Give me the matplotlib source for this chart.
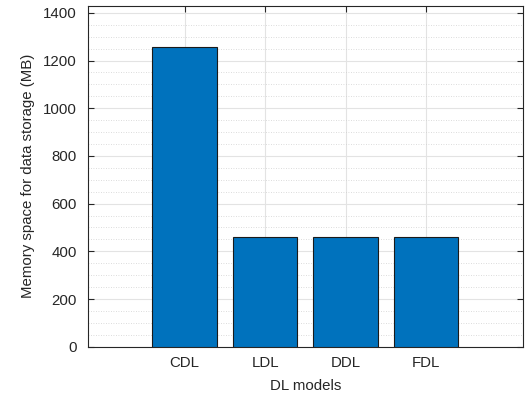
import matplotlib.pyplot as plt
from matplotlib.ticker import MultipleLocator

models = ["CDL", "LDL", "DDL", "FDL"]
memory_mb = [1255, 461, 461, 462]

plt.rcParams["font.family"] = ["Liberation Sans", "DejaVu Sans"]
plt.rcParams["font.size"] = 10.8

fig = plt.figure(figsize=(5.26, 3.96), dpi=100)
ax = fig.add_axes([88 / 526, 1 - 346.7 / 396, (522.7 - 88) / 526, (346.7 - 5.7) / 396])

x = list(range(1, len(models) + 1))
ax.bar(x, memory_mb, width=0.8, color="#0072BD", edgecolor="#1a1a1a", linewidth=0.8, zorder=3)

ax.set_xlim(-0.2, 5.2)
ax.set_ylim(0, 1430)
ax.set_xticks(x)
ax.set_xticklabels(models)
ax.yaxis.set_major_locator(MultipleLocator(200))
ax.yaxis.set_minor_locator(MultipleLocator(50))
ax.set_xlabel("DL models", color="#262626", labelpad=6)
ax.set_ylabel("Memory space for data storage (MB)", color="#262626", labelpad=6)

ax.grid(True, which="major", color="#e3e3e3", linewidth=0.8, zorder=0)
ax.grid(True, which="minor", axis="y", color="#d0d0d0", linewidth=0.6, linestyle=(0, (1, 2)), zorder=0)
ax.tick_params(which="both", direction="in", top=True, right=True, colors="#262626", labelcolor="#262626")
ax.tick_params(which="minor", length=0)
ax.tick_params(axis="x", which="major", length=4, pad=7)
ax.tick_params(axis="y", which="major", length=4, pad=8)
for s in ax.spines.values():
    s.set_color("#262626")
    s.set_linewidth(0.8)

fig.savefig("out.png", dpi=100)
